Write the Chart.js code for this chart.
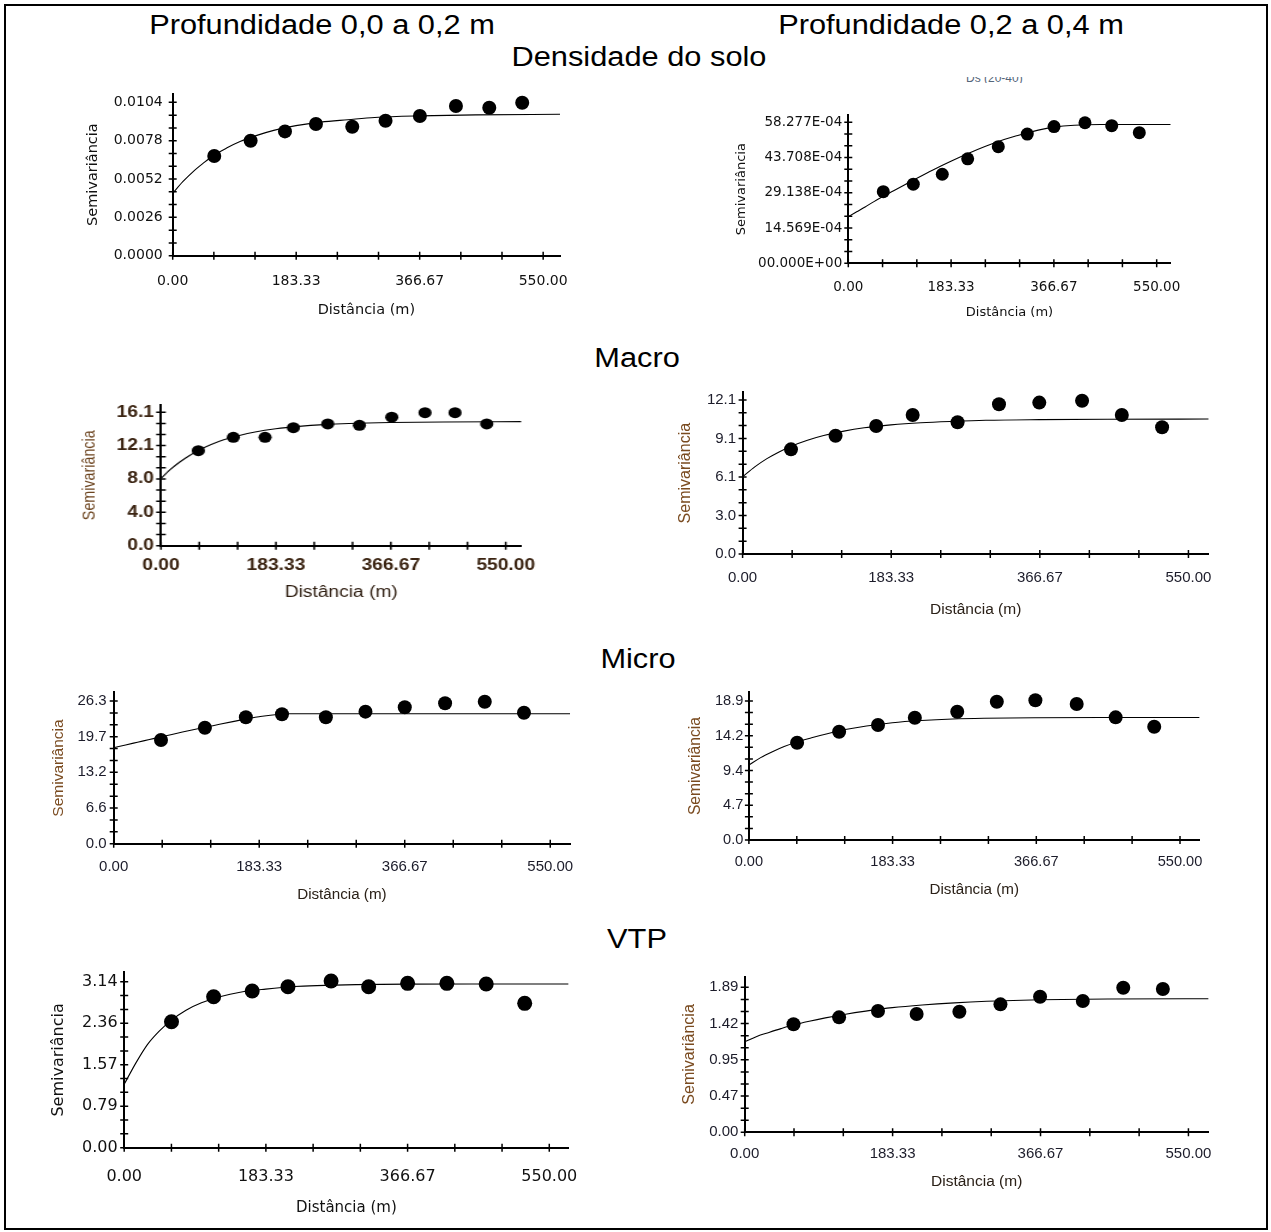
<!DOCTYPE html>
<html lang="pt">
<head>
<meta charset="utf-8">
<title>Semivariogramas</title>
<script src="https://cdn.jsdelivr.net/npm/chart.js@4.4.1/dist/chart.umd.min.js"></script>
<style>
  html, body { margin: 0; padding: 0; background: #fff; }
  body { width: 1271px; height: 1232px; position: relative; overflow: hidden; }
  .frame { position: absolute; left: 4px; top: 4px; width: 1260px; height: 1222px; border: 2px solid #000; }
  .head { position: absolute; font-family: 'Liberation Sans', Arial, sans-serif; font-size: 27px; line-height: 27px;
          color: #000; white-space: nowrap; transform: translateX(-50%) scaleX(1.14); }
  .cut { position: absolute; left: 966px; top: 77px; width: 60px; height: 6px; overflow: hidden; }
  .cut span { position: absolute; left: 0; top: -6px; font: 12px 'Liberation Sans', Arial, sans-serif; color: #55667a; white-space: nowrap; }
  canvas { position: absolute; }
</style>
</head>
<body>
<div class="frame"></div>
<div class="head" style="left:321.5px; top:11.5px">Profundidade 0,0 a 0,2 m</div>
<div class="head" style="left:951px; top:11.5px">Profundidade 0,2 a 0,4 m</div>
<div class="head" style="left:638.5px; top:43.8px">Densidade do solo</div>
<div class="head" style="left:637px; top:345px">Macro</div>
<div class="head" style="left:637.5px; top:646px">Micro</div>
<div class="head" style="left:636.5px; top:926px">VTP</div>
<div class="cut"><span>Ds (20-40)</span></div>

<script>
// distâncias (lags) do modelo ajustado, comuns a todos os painéis
const modelLag = [0, 15, 30, 45, 60, 80, 100, 125, 150, 183, 220, 260, 300, 366, 450, 575];
const xLabels = ['0.00', '183.33', '366.67', '550.00'];

// Densidade do solo
const lagDs1 = [61.7, 115.7, 166.7, 212.7, 266.6, 316.0, 367.0, 420.5, 470.0, 518.9];
const gamDs1 = [0.00676, 0.00780, 0.00843, 0.00893, 0.00875, 0.00915, 0.00947, 0.01015, 0.01003, 0.01037];
const fitDs1 = [0.00423, 0.00502, 0.00569, 0.00626, 0.00678, 0.00730, 0.00774, 0.00816, 0.00850, 0.00882, 0.00906, 0.00922, 0.00937, 0.00948, 0.00955, 0.00959];
const yLabelsDs1 = ['0.0000', '0.0026', '0.0052', '0.0078', '0.0104'];

const lagDs2 = [62.4, 115.9, 167.6, 212.9, 267.5, 319.2, 366.9, 422.1, 469.8, 519.0];
const gamDs2 = [0.00296, 0.00327, 0.00368, 0.00432, 0.00482, 0.00534, 0.00565, 0.00581, 0.00569, 0.00540];
const fitDs2 = [0.00193, 0.00213, 0.00233, 0.00254, 0.00274, 0.00299, 0.00324, 0.00355, 0.00385, 0.00422, 0.00460, 0.00497, 0.00527, 0.00563, 0.00574, 0.00574];
const yLabelsDs2 = ['00.000E+00', '14.569E-04', '29.138E-04', '43.708E-04', '58.277E-04'];

// Macroporosidade
const lagMa1 = [59.6, 115.4, 166.0, 211.2, 266.0, 316.5, 368.1, 421.2, 469.1, 519.7];
const gamMa1 = [11.47, 13.08, 13.08, 14.24, 14.69, 14.53, 15.50, 16.05, 16.05, 14.69];
const fitMa1 = [8.13, 9.20, 10.10, 10.86, 11.50, 12.20, 12.77, 13.30, 13.72, 14.11, 14.40, 14.61, 14.74, 14.86, 14.93, 14.97];
const yLabelsMa1 = ['0.0', '4.0', '8.0', '12.1', '16.1'];

const lagMa2 = [59.7, 114.7, 164.8, 209.8, 265.2, 316.3, 366.0, 418.8, 467.8, 517.5];
const gamMa2 = [8.22, 9.29, 10.05, 10.92, 10.35, 11.76, 11.89, 12.04, 10.92, 9.95];
const fitMa2 = [6.07, 6.84, 7.49, 8.02, 8.46, 8.93, 9.30, 9.65, 9.91, 10.14, 10.31, 10.42, 10.50, 10.55, 10.58, 10.60];
const yLabelsMa2 = ['0.0', '3.0', '6.1', '9.1', '12.1'];

// Microporosidade
const lagMi1 = [59.6, 114.9, 166.5, 212.0, 267.3, 317.2, 366.7, 417.5, 467.5, 516.9];
const gamMi1 = [19.11, 21.38, 23.29, 23.85, 23.29, 24.33, 25.14, 25.87, 26.17, 24.14];
const fitMi1 = [17.69, 18.20, 18.70, 19.20, 19.70, 20.35, 21.00, 21.75, 22.50, 23.40, 23.96, 23.96, 23.96, 23.96, 23.96, 23.96];
const yLabelsMi1 = ['0.0', '6.6', '13.2', '19.7', '26.3'];

const lagMi2 = [61.5, 115.1, 164.7, 211.7, 265.8, 316.3, 365.5, 418.2, 467.9, 517.1];
const gamMi2 = [13.23, 14.73, 15.64, 16.63, 17.45, 18.81, 19.00, 18.49, 16.68, 15.41];
const fitMi2 = [10.20, 11.20, 12.00, 12.70, 13.30, 13.90, 14.45, 15.05, 15.50, 15.95, 16.25, 16.45, 16.55, 16.62, 16.65, 16.65];
const yLabelsMi2 = ['0.0', '4.7', '9.4', '14.2', '18.9'];

// VTP
const lagVt1 = [61.2, 115.7, 165.6, 211.9, 267.7, 316.3, 366.7, 417.5, 468.4, 518.2];
const gamVt1 = [2.383, 2.856, 2.964, 3.045, 3.153, 3.045, 3.109, 3.109, 3.096, 2.731];
const fitVt1 = [1.20, 1.60, 1.95, 2.20, 2.40, 2.60, 2.74, 2.86, 2.94, 3.00, 3.05, 3.07, 3.085, 3.095, 3.096, 3.096];
const yLabelsVt1 = ['0.00', '0.79', '1.57', '2.36', '3.14'];

const lagVt2 = [60.5, 117.0, 165.2, 213.1, 266.1, 317.0, 366.1, 419.1, 469.2, 518.3];
const gamVt2 = [1.408, 1.499, 1.581, 1.542, 1.572, 1.668, 1.768, 1.711, 1.885, 1.868];
const fitVt2 = [1.181, 1.250, 1.302, 1.352, 1.398, 1.448, 1.492, 1.540, 1.580, 1.625, 1.660, 1.688, 1.708, 1.728, 1.738, 1.741];
const yLabelsVt2 = ['0.00', '0.47', '0.95', '1.42', '1.89'];

// marcas de escala atravessando o eixo, como no original
const crossTicks = {
  id: 'crossTicks',
  afterDraw(chart) {
    const { ctx, chartArea, scales: { x, y } } = chart;
    const len = 4;
    ctx.save();
    ctx.strokeStyle = '#000';
    ctx.lineWidth = 1.5;
    ctx.beginPath();
    x.ticks.forEach(t => {
      const px = x.getPixelForValue(t.value);
      ctx.moveTo(px, chartArea.bottom - len);
      ctx.lineTo(px, chartArea.bottom + len);
    });
    y.ticks.forEach(t => {
      const py = y.getPixelForValue(t.value);
      ctx.moveTo(chartArea.left - len, py);
      ctx.lineTo(chartArea.left + len, py);
    });
    ctx.stroke();
    ctx.restore();
  }
};

function tickList(labels, max) {
  const major = parseFloat(labels[labels.length - 1]) / (labels.length - 1);
  const minor = major / 3;
  const out = [];
  for (let i = 0; i * minor <= max + 1e-9; i++) out.push({ value: i * minor });
  return out;
}

function makePanel(p) {
  const k = p.stretch || 1;
  const L = Math.round(p.yTitleCx - k * 0.6 * p.yTitleSize);
  const T = Math.floor(p.top - 10);
  const padTop = p.top - T;
  const bottom = p.xTitleCy + 0.6 * p.xTitleSize;
  const yW = (p.axisX - L) / k;
  const plotW = (p.right - p.axisX) / k;
  const W = Math.ceil(yW + plotW + 30);
  const H = Math.ceil(bottom - T);
  const xH = H - padTop - (p.axisY - p.top);

  const canvas = document.createElement('canvas');
  canvas.width = W;
  canvas.height = H;
  canvas.style.left = L + 'px';
  canvas.style.top = T + 'px';
  canvas.style.width = W + 'px';
  canvas.style.height = H + 'px';
  if (k !== 1) {
    canvas.style.transformOrigin = '0 0';
    canvas.style.transform = 'scaleX(' + k + ')';
  }
  document.body.appendChild(canvas);

  const xTicks = tickList(xLabels, 575);
  const yTicks = tickList(p.yLabels, p.ymax);
  const fam = p.font;

  new Chart(canvas.getContext('2d'), {
    type: 'scatter',
    data: {
      datasets: [
        {
          data: p.lag.map((v, i) => ({ x: v, y: p.gam[i] })),
          backgroundColor: '#000',
          borderWidth: 0,
          pointRadius: p.r,
          pointHoverRadius: p.r,
          clip: false
        },
        {
          data: modelLag.map((v, i) => ({ x: v, y: p.fit[i] })),
          showLine: true,
          borderColor: '#000',
          borderWidth: 1.1,
          pointRadius: 0,
          cubicInterpolationMode: 'monotone'
        }
      ]
    },
    options: {
      responsive: false,
      animation: false,
      events: [],
      layout: { padding: { top: padTop, right: W - yW - plotW, left: 0, bottom: 0 } },
      plugins: { legend: { display: false }, tooltip: { enabled: false } },
      scales: {
        x: {
          type: 'linear', min: 0, max: 575,
          afterBuildTicks: s => { s.ticks = xTicks; },
          afterFit: s => { s.height = xH; s.paddingLeft = 0; s.paddingRight = 0; },
          grid: { drawOnChartArea: false, drawTicks: false },
          border: { color: '#000', width: 2 },
          ticks: {
            autoSkip: false, maxRotation: 0, padding: p.xLabelCy - p.axisY - 0.6 * p.tickSize,
            font: { family: fam, size: p.tickSize, weight: p.tickWeight || 'normal' }, color: p.tickColor,
            callback: (v, i) => (i % 3 === 0 ? xLabels[i / 3] : '')
          },
          title: { display: true, text: 'Distância (m)', padding: 0,
                   font: { family: fam, size: p.xTitleSize }, color: p.xTitleColor }
        },
        y: {
          type: 'linear', min: 0, max: p.ymax,
          afterBuildTicks: s => { s.ticks = yTicks; },
          afterFit: s => { s.width = yW; s.paddingTop = 0; s.paddingBottom = 0; },
          grid: { drawOnChartArea: false, drawTicks: false },
          border: { color: '#000', width: 2 },
          ticks: {
            autoSkip: false, padding: p.yPad / k,
            font: { family: fam, size: p.tickSize, weight: p.tickWeight || 'normal' }, color: p.tickColor,
            callback: (v, i) => (i % 3 === 0 && p.yLabels[i / 3] !== undefined ? p.yLabels[i / 3] : '')
          },
          title: { display: true, text: 'Semivariância', padding: 0,
                   font: { family: fam, size: p.yTitleSize }, color: p.yTitleColor }
        }
      }
    },
    plugins: [crossTicks]
  });
}

const DV = "'DejaVu Sans', sans-serif";
const LS = "'Liberation Sans', Arial, sans-serif";

makePanel({ lag: lagDs1, gam: gamDs1, fit: fitDs1, yLabels: yLabelsDs1, ymax: 0.011,
  axisX: 172.7, axisY: 255.7, top: 93.5, right: 560, yTitleCx: 94, xTitleCy: 310, xLabelCy: 281, yPad: 10,
  font: DV, tickSize: 14, yTitleSize: 14.5, xTitleSize: 14.5, tickColor: '#111', xTitleColor: '#111', yTitleColor: '#111', r: 7 });

makePanel({ lag: lagDs2, gam: gamDs2, fit: fitDs2, yLabels: yLabelsDs2, ymax: 0.00613,
  axisX: 848.3, axisY: 263.3, top: 115, right: 1170.7, yTitleCx: 741.7, xTitleCy: 311.7, xLabelCy: 287.5, yPad: 6,
  font: DV, tickSize: 13.5, yTitleSize: 13, xTitleSize: 13, tickColor: '#111', xTitleColor: '#111', yTitleColor: '#111', r: 6.5 });

makePanel({ lag: lagMa1, gam: gamMa1, fit: fitMa1, yLabels: yLabelsMa1, ymax: 17.0, stretch: 1.2,
  axisX: 161, axisY: 545.7, top: 404.8, right: 521.4, yTitleCx: 89.2, xTitleCy: 592, xLabelCy: 565.8, yPad: 7,
  font: LS, tickSize: 16, tickWeight: 'bold', yTitleSize: 14.3, xTitleSize: 16,
  tickColor: '#3b2412', xTitleColor: '#2e1d10', yTitleColor: '#6d4520', r: 5.5 });

makePanel({ lag: lagMa2, gam: gamMa2, fit: fitMa2, yLabels: yLabelsMa2, ymax: 12.7,
  axisX: 742.6, axisY: 554, top: 392.3, right: 1208.7, yTitleCx: 685.8, xTitleCy: 609, xLabelCy: 578.3, yPad: 6.5,
  font: LS, tickSize: 15, yTitleSize: 16, xTitleSize: 15.5,
  tickColor: '#1c1c2a', xTitleColor: '#2b2118', yTitleColor: '#7a4b20', r: 7 });

makePanel({ lag: lagMi1, gam: gamMi1, fit: fitMi1, yLabels: yLabelsMi1, ymax: 27.9,
  axisX: 113.7, axisY: 843.7, top: 692.3, right: 570.1, yTitleCx: 57.9, xTitleCy: 894.2, xLabelCy: 867, yPad: 7,
  font: LS, tickSize: 15, yTitleSize: 15.5, xTitleSize: 15.2,
  tickColor: '#1c1c2a', xTitleColor: '#2b2118', yTitleColor: '#7a4b20', r: 7 });

makePanel({ lag: lagMi2, gam: gamMi2, fit: fitMi2, yLabels: yLabelsMi2, ymax: 20.1,
  axisX: 748.9, axisY: 840, top: 692.2, right: 1199.6, yTitleCx: 695, xTitleCy: 889.2, xLabelCy: 861.7, yPad: 5.5,
  font: LS, tickSize: 14.6, yTitleSize: 15.6, xTitleSize: 15.2,
  tickColor: '#1c1c2a', xTitleColor: '#2b2118', yTitleColor: '#7a4b20', r: 7 });

makePanel({ lag: lagVt1, gam: gamVt1, fit: fitVt1, yLabels: yLabelsVt1, ymax: 3.32,
  axisX: 124.2, axisY: 1147.7, top: 972.2, right: 568.6, yTitleCx: 58.8, xTitleCy: 1207.5, xLabelCy: 1176.7, yPad: 6.5,
  font: DV, tickSize: 16, yTitleSize: 16, xTitleSize: 15, tickColor: '#111', xTitleColor: '#111', yTitleColor: '#111', r: 7.5 });

makePanel({ lag: lagVt2, gam: gamVt2, fit: fitVt2, yLabels: yLabelsVt2, ymax: 2.03,
  axisX: 744.7, axisY: 1132.3, top: 976.6, right: 1208.6, yTitleCx: 689.3, xTitleCy: 1181.7, xLabelCy: 1154.2, yPad: 6.3,
  font: LS, tickSize: 15, yTitleSize: 16, xTitleSize: 15.5,
  tickColor: '#1c1c2a', xTitleColor: '#2b2118', yTitleColor: '#7a4b20', r: 7 });
</script>
</body>
</html>
